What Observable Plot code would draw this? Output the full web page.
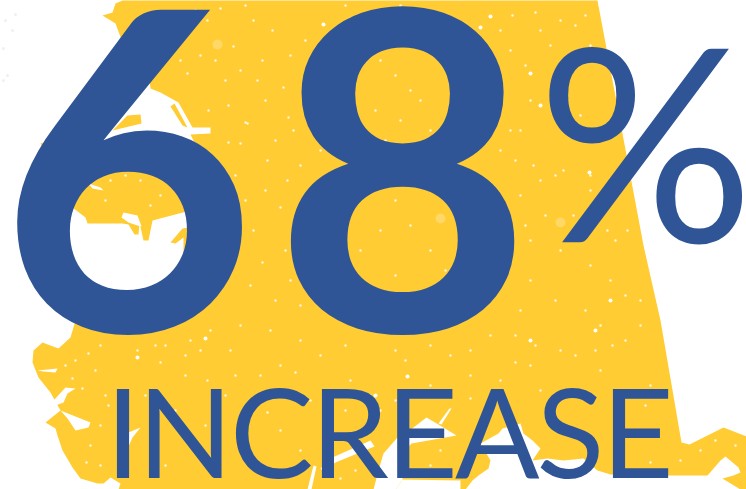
<!DOCTYPE html>
<html>
<head>
<meta charset="utf-8">
<script src="https://cdn.jsdelivr.net/npm/d3@7"></script>
<script src="https://cdn.jsdelivr.net/npm/@observablehq/plot@0.6"></script>
<style>html,body{margin:0;padding:0;background:#fff;overflow:hidden}svg{display:block}</style>
</head>
<body>
<div id="chart"></div>
<script>
const digitSix = "6";
const digitEight = "8";
const percentSign = "%";
const caption = "INCREASE";
const blue = "#2f5597";
const gold = "#ffcc33";

const land = [[102,15],[112,12],[115,3],[122,0],[597,0],[643,245],[660,320],[681,442],[689,444],[723,427],[746,436],[746,489],[740,489],[722,478],[733,475],[740,472],[738,467],[725,456],[720,460],[707,475],[668,475],[610,474],[597,470],[583,458],[563,460],[547,458],[532,460],[540,448],[532,440],[523,433],[520,423],[502,428],[498,433],[480,443],[490,460],[488,468],[478,475],[472,480],[465,489],[460,489],[460,480],[402,479],[395,489],[118,489],[120,483],[110,477],[103,483],[97,483],[80,478],[72,467],[62,450],[57,435],[55,428],[45,422],[60,410],[50,392],[38,377],[32,362],[33,350],[42,342],[58,348],[70,337],[75,320],[45,240],[45,190],[60,165],[44,150],[40,143],[70,135],[100,95],[125,50],[115,23]];

const waterShapes = [
  [[60,205],[72,207],[85,217],[87,223],[122,223],[128,224],[134,234],[138,234],[139,222],[143,240],[148,240],[152,220],[190,210],[195,210],[195,226],[182,228],[170,242],[175,243],[183,237],[183,260],[175,275],[160,285],[143,288],[140,300],[60,300]],
  [[123,212],[137,215],[141,226],[137,225],[128,222],[121,217]],
  [[88,183],[100,187],[103,190],[92,188]],
  [[149,79],[150,88],[160,92],[178,102],[192,127],[210,127],[210,133],[190,134],[205,165],[170,150],[100,140],[110,130]],
  [[37,370],[57,368],[55,372],[43,371]],
  [[53,400],[65,387],[75,388],[67,393],[63,402],[55,405]],
  [[60,410],[90,422],[88,427],[75,430],[67,418]],
  [[383,453],[397,437],[413,427],[426,417],[443,427],[456,435],[445,437],[411,443],[400,455],[402,479],[395,489],[373,489],[378,470]],
  [[332,457],[370,440],[374,446],[335,462],[322,470],[320,468]],
  [[128,432],[140,427],[132,437],[128,446]],
  [[313,465],[316,466],[311,489],[307,489]],
  [[438,423],[449,408],[451,408],[441,424]]
];
const landIslets = [
  [[112,130],[127,115],[140,114],[141,123]],
  [[170,106],[174,103],[187,127],[182,125]]
];
const faintDots = [[5,20],[12,30],[3,48],[15,14],[7,75],[3,80]];
const smallSpecks = [[233,46],[253,20],[187,73],[225,80],[257,80],[283,87],[247,123],[288,117],[240,143],[287,180],[253,230],[280,207],[267,160],[320,150],[293,130],[245,122],[208,110],[228,142],[207,20],[220,8],[190,30],[245,5],[290,55],[305,40],[345,5],[400,5],[350,18],[262,60],[272,30],[305,72],[310,100],[265,100],[228,105],[275,140],[300,165],[325,195],[262,262],[285,250],[250,285],[275,300],[300,305],[325,270],[340,250],[540,30],[535,12],[575,25],[590,45],[525,65],[530,100],[580,115],[520,130],[533,165],[540,180],[555,175],[500,150],[505,205],[520,195],[563,170],[590,175],[605,200],[607,230],[615,240],[525,225],[545,215],[573,215],[600,215],[590,190],[627,230],[640,325],[625,340],[612,345],[595,350],[575,355],[560,350],[530,365],[515,362],[535,345],[515,335],[490,335],[470,350],[405,360],[430,345],[450,355],[395,350],[345,345],[320,355],[300,340],[280,365],[260,375],[230,350],[200,350],[185,355],[137,350],[155,345],[160,362],[165,345],[100,345],[88,353],[75,360],[65,365],[95,370],[72,378],[82,388],[105,395],[108,405],[100,425],[90,445],[100,465],[86,462],[185,375],[207,380],[225,395],[245,408],[267,412],[280,430],[295,372],[310,400],[330,395],[350,380],[345,410],[370,395],[380,410],[395,400],[430,385],[470,375],[500,380],[540,390],[555,395],[600,370],[645,405],[650,385],[440,450],[440,470],[430,465],[510,410],[470,398],[690,425],[715,440],[735,445],[728,465],[700,450],[680,460],[650,462],[655,470],[145,395],[165,465],[155,450],[175,410],[205,425],[210,465],[235,375],[340,478],[355,470],[280,475],[300,450],
  [380,60],[395,75],[410,90],[375,110],[400,120],[420,100],[385,140],[405,155],[430,130],[378,180],[395,200],[420,175],[440,190],[410,225],[380,230],[360,250],[430,250],[445,270],[395,275],[370,290],[415,300],[440,310],[385,320],[230,225],[245,200],[265,190],[235,175],[215,170],[300,230],[320,225],[290,280],[270,330],[240,325],[210,330],[190,340],[150,25],[165,45],[200,55],[180,60],[150,60],[215,60],[240,70],[170,15],[195,10],[500,30],[510,50],[495,70],[512,15],[550,45],[560,65],[560,20],[585,15],[500,100],[510,130],[515,160],[530,240],[560,250],[590,265],[610,280],[625,295],[640,300],[530,280],[555,300],[585,310],[600,325],[520,310],[125,175],[140,180],[160,195],[170,175],[110,180],[150,205],[105,200]];
const bigSpecks = [[323,24],[490,16],[480,27],[530,73],[540,105],[589,172],[566,100],[205,338],[137,357],[407,376],[375,395],[610,300],[595,330],[530,340],[600,5]];
const paleSpecks = [[217,44],[560,222],[440,218],[590,218]];

const toRows = (shapes) => shapes.flatMap((s, i) => s.map(([x, y]) => ({x, y, i})));

const plot = Plot.plot({
  width: 746,
  height: 489,
  margin: 0,
  x: {domain: [0, 746], range: [0, 746], axis: null},
  y: {domain: [0, 489], range: [0, 489], axis: null},
  marks: [
    Plot.dot(faintDots, {x: d => d[0], y: d => d[1], r: 1.5, fill: "#f0f0f0"}),
    Plot.line(toRows([land]), {x: "x", y: "y", z: "i", curve: "linear-closed", fill: gold, stroke: "none"}),
    Plot.dot(paleSpecks, {x: d => d[0], y: d => d[1], r: 5, fill: "#ffe08a", fillOpacity: 0.6}),
    Plot.line(toRows(waterShapes), {x: "x", y: "y", z: "i", curve: "linear-closed", fill: "#fff", stroke: "none"}),
    Plot.line(toRows(landIslets), {x: "x", y: "y", z: "i", curve: "linear-closed", fill: gold, stroke: "none"}),
    Plot.dot(smallSpecks, {x: d => d[0], y: d => d[1], r: 1.2, fill: "#fff", fillOpacity: 0.85}),
    Plot.dot(bigSpecks, {x: d => d[0], y: d => d[1], r: 2, fill: "#fff"}),
    Plot.text([digitSix], {text: d => d, frameAnchor: "top-left", textAnchor: "start", lineAnchor: "top", dx: -2, dy: 15, fontSize: 445, fontWeight: 700, fontFamily: "Lato", fill: blue}),
    Plot.text([digitEight], {text: d => d, frameAnchor: "top-left", textAnchor: "start", lineAnchor: "top", dx: 273, dy: 15, fontSize: 445, fontWeight: 700, fontFamily: "Lato", fill: blue}),
    Plot.text([percentSign], {text: d => d, frameAnchor: "top-left", textAnchor: "start", lineAnchor: "top", dx: 537, dy: 50, fontSize: 270, fontWeight: 400, fontFamily: "Lato", fill: blue}),
    Plot.text([caption], {text: d => d, frameAnchor: "top-left", textAnchor: "start", lineAnchor: "top", dx: 105, dy: 389, fontSize: 125, fontWeight: 400, fontFamily: "Lato", fill: blue})
  ]
});
d3.select(plot).selectAll("text").filter(function () { return this.textContent === caption; }).style("letter-spacing", "-3px");
document.getElementById("chart").appendChild(plot);
</script>
</body>
</html>
